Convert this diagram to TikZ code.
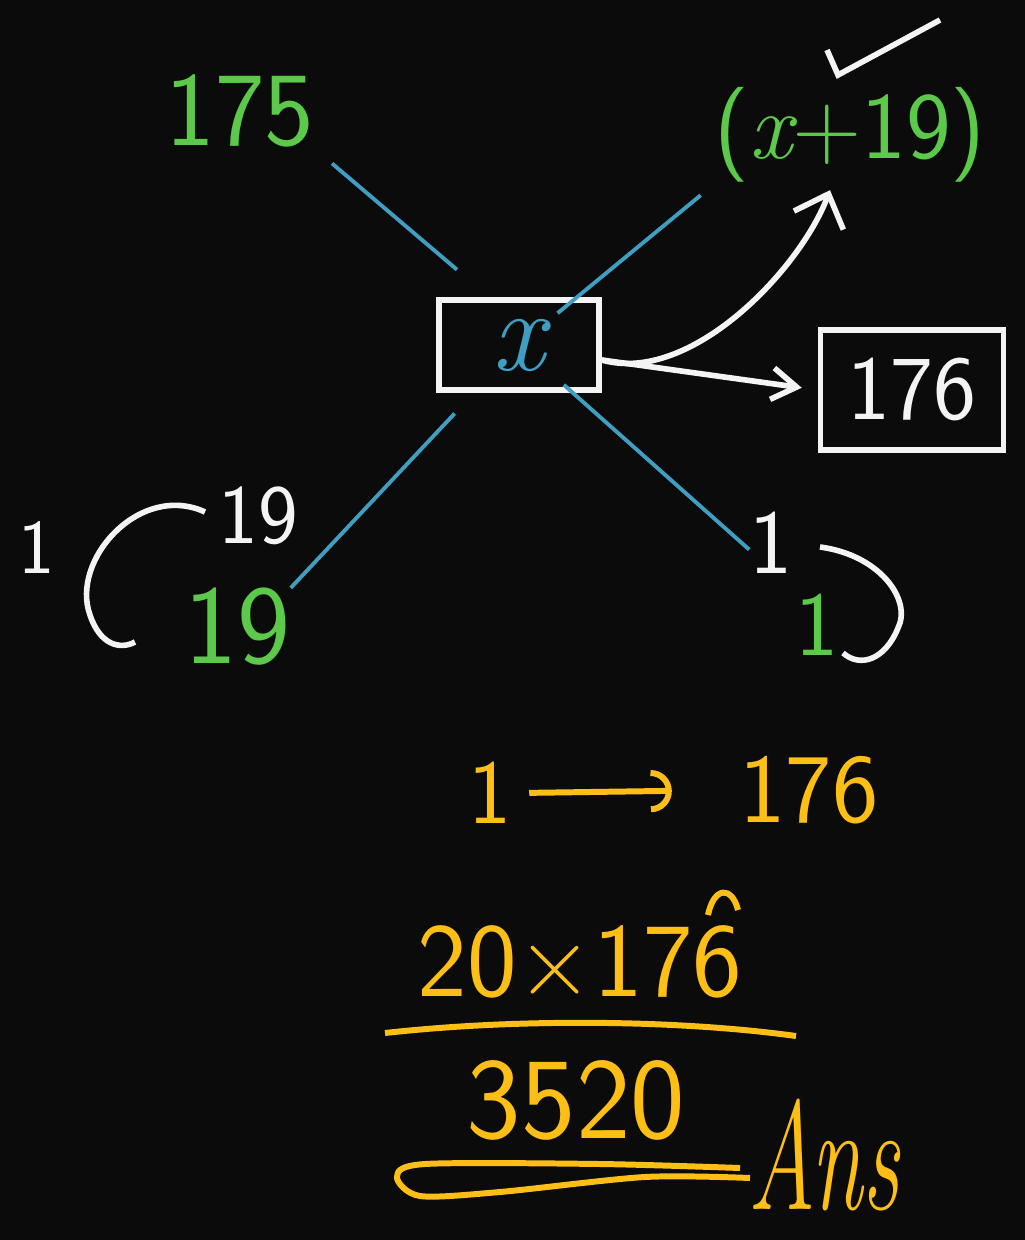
\documentclass[tikz,border=0pt]{standalone}
\usepackage{tikz}
\usetikzlibrary{
  arrows.meta,%
  calc,%
  positioning
}
\definecolor{board}{HTML}{0B0B0B}
\definecolor{chalkgreen}{HTML}{5CC94A}
\definecolor{chalkblue}{HTML}{3F9EC2}
\definecolor{chalkyellow}{HTML}{FDBF16}
\definecolor{chalkwhite}{HTML}{F4F4F4}
% handwriting size
\newcommand{\hand}[1]{\fontsize{#1}{#1}\selectfont\sffamily}
\tikzset{line cap=round, line join=round}
\tikzset{
  greenlbl/.style={text=chalkgreen, inner sep=2pt},
  whitelbl/.style={text=chalkwhite, inner sep=2pt},
  yellowlbl/.style={text=chalkyellow, inner sep=2pt},
  arm/.style={draw=chalkblue, line width=1.1pt},
  wline/.style={draw=chalkwhite, line width=1.6pt},
  yline/.style={draw=chalkyellow, line width=1.7pt},
  wbox/.style={draw=chalkwhite, line width=1.6pt, inner sep=0pt,
    minimum width=1.6cm, minimum height=0.9cm}
}

\begin{document}
\begin{tikzpicture}[x=0.01cm, y=-0.01cm]
      \fill[board] (0,0) rectangle (1025,1240);%
      \useasboundingbox (0,0) rectangle (1025,1240);%
      % top part
      \node[greenlbl] (t175) at (240,111) {\hand{30}175};%
      \node[greenlbl] (txp19) at (850,135) {\hand{27}({\rmfamily\itshape x}+19)};%
      \draw[wline] (827,50) -- (838,75) -- (940,20);%
      \node[wbox, text=chalkblue] (xbox) at (519,345) {\hand{33}\rmfamily\itshape x};%
      \node[wbox, text=chalkwhite, minimum width=1.83cm, minimum height=1.2cm] (box176) at (912,390) {\hand{26}176};%
      % lower left and right
      \node[greenlbl] (g19) at (237,627) {\hand{32}19};%
      \node[whitelbl] (w19) at (258,516) {\hand{24}19};%
      \node[whitelbl] (w1l) at (37,548) {\hand{22}1};%
      \draw[wline] (205,512) .. controls (140,482) and (70,560) .. (90,615) .. controls (100,645) and (120,650) .. (135,642);%
      \node[whitelbl] (w1r) at (771,543) {\hand{26}1};%
      \node[greenlbl] (g1) at (817,625) {\hand{26}1};%
      \draw[wline] (820,547) .. controls (880,555) and (912,600) .. (898,628) .. controls (885,660) and (860,668) .. (843,653);%
      % the four arms
      \draw[arm, shorten <=0.13cm, shorten >=1.9cm] (t175.south east) -- (xbox.south east);%
      \draw[arm, shorten <=0.5cm, shorten >=0.08cm] (xbox.center) -- (txp19.south west);%
      \draw[arm, shorten <=0.94cm, shorten >=-0.1cm] (xbox.center) -- (g19.north east);%
      \draw[arm, shorten <=0.6cm, shorten >=-0.1cm] (xbox.center) -- (w1r.west);%
      % arrows out of the box
      \draw[wline, -{Straight Barb[length=8pt, width=15pt]}] ([yshift=-0.15cm]xbox.east) .. controls (690,385) and (800,270) .. ([xshift=-0.2cm]txp19.south);%
      \draw[wline, -{Straight Barb[length=7pt, width=9pt]}, shorten >=0.16cm] ([yshift=-0.15cm]xbox.east) -- (box176.west);%
      % working
      \node[yellowlbl] (y1) at (490,793) {\hand{26}1};%
      \node[yellowlbl] (y176) at (809,790) {\hand{28}176};%
      \draw[yline, -{Arc Barb[length=6pt, width=12pt]}, shorten <=0.1cm, shorten >=0.6cm] (y1.east) -- (y176.west);%
      \node[yellowlbl] (num) at (580,962) {\hand{30}20×176};%
      \draw[yline] (708,915) .. controls (714,886) and (732,886) .. (738,910);%
      \draw[yline] (385,1033) .. controls (520,1018) and (680,1020) .. (796,1036);%
      \node[yellowlbl] (den) at (576,1100) {\hand{33}3520};%
      \draw[yline] plot[smooth] coordinates {(750,1178) (645,1177) (500,1192) (420,1196) (397,1177) (425,1164) (600,1164) (740,1168)};%
      \node[yellowlbl] (ans) at (824,1155) {\scalebox{0.6}[1]{\fontsize{44}{44}\selectfont\rmfamily\itshape Ans}};%
\end{tikzpicture}
\end{document}
